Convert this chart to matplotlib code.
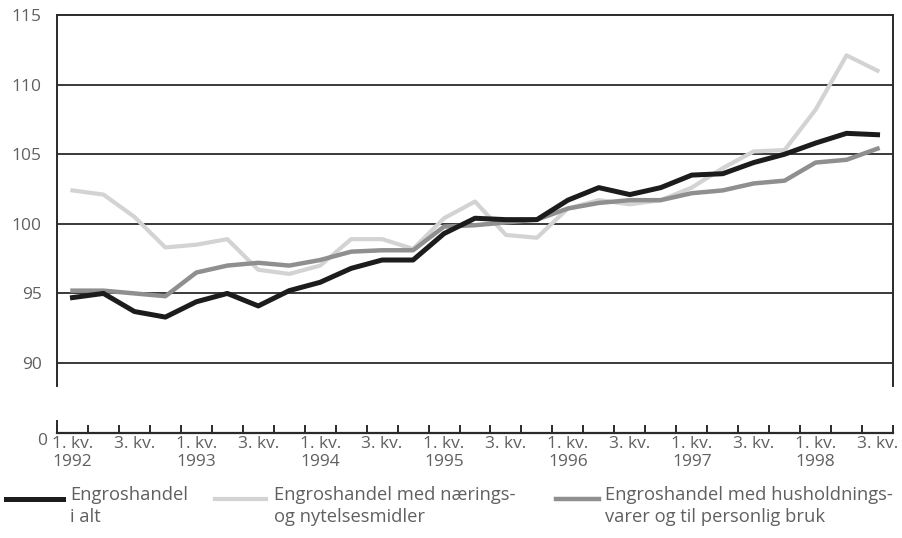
import numpy as np
import matplotlib
matplotlib.use("Agg")
import matplotlib.pyplot as plt
from matplotlib.lines import Line2D

plt.rcParams['font.family'] = ['Open Sans', 'DejaVu Sans']

# Kvartaler 1992 1. kv. - 1998 3. kv.
kvartal = ["1. kv.", "2. kv.", "3. kv.", "4. kv."]
aar = list(range(1992, 1999))

# Engroshandel i alt
i_alt = [94.7, 95.0, 93.7, 93.3, 94.4, 95.0, 94.1, 95.2, 95.8, 96.8, 97.4, 97.4, 99.3,
         100.4, 100.3, 100.3, 101.7, 102.6, 102.1, 102.6, 103.5, 103.6, 104.4, 105.0,
         105.8, 106.5, 106.4]
# Engroshandel med nærings- og nytelsesmidler
naering = [102.4, 102.1, 100.5, 98.3, 98.5, 98.9, 96.7, 96.4, 97.0, 98.9, 98.9, 98.2, 100.4,
           101.6, 99.2, 99.0, 101.1, 101.7, 101.4, 101.7, 102.6, 104.0, 105.2, 105.3,
           108.2, 112.1, 111.0]
# Engroshandel med husholdningsvarer og til personlig bruk
hushold = [95.2, 95.2, 95.0, 94.8, 96.5, 97.0, 97.2, 97.0, 97.4, 98.0, 98.1, 98.1, 99.8,
           99.9, 100.1, 100.3, 101.1, 101.5, 101.7, 101.7, 102.2, 102.4, 102.9, 103.1,
           104.4, 104.6, 105.4]

n = len(i_alt)
x = np.arange(n)
etiketter = []
for i in range(0, n, 2):
    k = kvartal[i % 4]
    if i % 4 == 0:
        etiketter.append(k + "\n" + str(aar[i // 4]))
    else:
        etiketter.append(k + "\n")

W, H = 902, 538
fig = plt.figure(figsize=(W / 100, H / 100), dpi=100)
tekst = "#606060"
strek = "#2a2a2a"

# Øvre del (90-115)
ax = fig.add_axes([57 / W, (H - 386) / H, (893 - 57) / W, (386 - 15) / H])
ax.set_xlim(-0.5, n - 0.5)
ax.set_ylim(88.35, 115)
ax.set_yticks([90, 95, 100, 105, 110, 115])
ax.set_yticklabels(["90", "95", "100", "105", "110", "115"])
ax.tick_params(axis='y', length=0, pad=11, labelsize=12.5, labelcolor=tekst)
ax.set_xticks([])
for v in [90, 95, 100, 105, 110]:
    ax.axhline(v, color=strek, lw=1.3, zorder=1)
for s in ["left", "right", "top"]:
    ax.spines[s].set_color(strek)
    ax.spines[s].set_linewidth(1.4)
ax.spines["bottom"].set_visible(False)

ax.plot(x, naering, color="#d3d3d3", lw=3.0, zorder=2)
ax.plot(x, hushold, color="#8f8f8f", lw=3.2, zorder=3)
ax.plot(x, i_alt, color="#1c1c1c", lw=3.6, zorder=4)

# Nedre del (0-akse med kvartaler)
ax2 = fig.add_axes([57 / W, (H - 433) / H, (893 - 57) / W, 12 / H])
ax2.set_xlim(-0.5, n - 0.5)
ax2.set_ylim(0, 1)
ax2.patch.set_visible(False)
for s in ["right", "top"]:
    ax2.spines[s].set_visible(False)
ax2.spines["left"].set_color(strek)
ax2.spines["left"].set_linewidth(1.4)
ax2.spines["bottom"].set_color(strek)
ax2.spines["bottom"].set_linewidth(1.6)
ax2.set_yticks([0])
ax2.set_yticklabels(["0"])
ax2.tick_params(axis='y', length=0, pad=7, labelsize=12.5, labelcolor=tekst)
for t in ax2.get_yticklabels():
    t.set_va("top")
    t.set_y(-0.1)
ax2.set_xticks(x[::2])
ax2.set_xticklabels(etiketter)
ax2.set_xticks(np.arange(n + 1) - 0.5, minor=True)
ax2.tick_params(axis='x', which='major', length=0, pad=2, labelsize=12.5, labelcolor=tekst)
ax2.tick_params(axis='x', which='minor', direction='in', length=6, width=1.4, color=strek)
for t in ax2.get_xticklabels():
    t.set_linespacing(1.15)

# Tegnforklaring
poster = [
    (6, 63, 70, "#1c1c1c", 3.6, "Engroshandel\ni alt"),
    (215, 266, 274, "#d3d3d3", 3.0, "Engroshandel med nærings-\nog nytelsesmidler"),
    (556, 599, 605, "#8f8f8f", 3.2, "Engroshandel med husholdnings-\nvarer og til personlig bruk"),
]
for x0, x1, xt, farge, lw, navn in poster:
    fig.add_artist(Line2D([x0 / W, x1 / W], [(H - 499) / H, (H - 499) / H],
                          transform=fig.transFigure, color=farge, lw=lw))
    fig.text(xt / W, (H - 486) / H, navn, ha="left", va="top", fontsize=13.2,
             color=tekst, linespacing=1.25)

fig.savefig("out.png", dpi=100)
